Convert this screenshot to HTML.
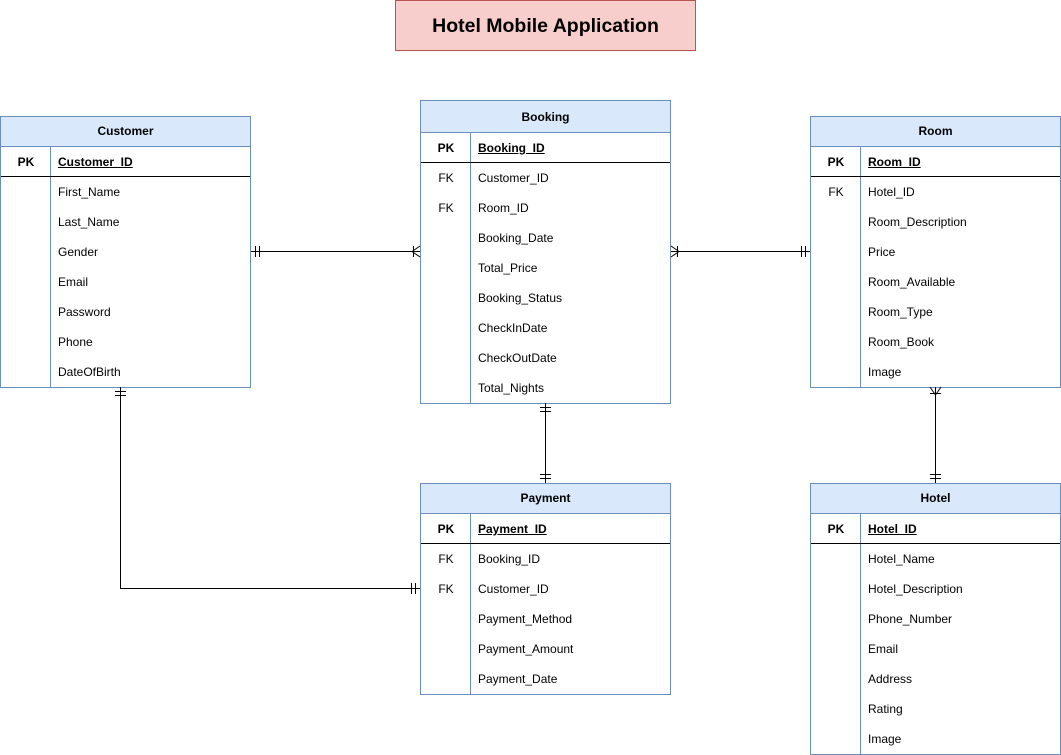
<!DOCTYPE html>
<html><head><meta charset="utf-8"><style>
body{margin:0;width:1061px;height:755px;background:#fff;position:relative;font-family:"Liberation Sans",Arial,sans-serif;font-size:12px;color:#000;overflow:hidden}
.t{position:absolute;width:249px;border:1px solid #6c8ebf;background:#fff;box-sizing:content-box}
.h{height:29px;line-height:29px;text-align:center;font-weight:bold;background:#dae8fc;border-bottom:1px solid #6c8ebf}
.r{height:30px;line-height:30px;position:relative}
.r .k{position:absolute;left:0;width:50px;text-align:center}
.r .n{position:absolute;left:57px}
.pk{font-weight:bold;border-bottom:1px solid #000;height:29px;line-height:30px}
.pk .n{text-decoration:underline}
.v{position:absolute;left:49px;top:30px;bottom:0;border-left:1px solid #6c8ebf}
#title{position:absolute;left:395px;top:0;width:299px;height:49px;background:#f8cecc;border:1px solid #b85450;text-align:center;line-height:50px;font-weight:bold;font-size:19.5px}
svg{position:absolute;left:0;top:0}
</style></head><body>
<div id="title">Hotel Mobile Application</div>

<div class="t" style="left:0;top:116px"><div class="v"></div>
<div class="h">Customer</div>
<div class="r pk"><span class="k">PK</span><span class="n">Customer_ID</span></div>
<div class="r"><span class="n">First_Name</span></div>
<div class="r"><span class="n">Last_Name</span></div>
<div class="r"><span class="n">Gender</span></div>
<div class="r"><span class="n">Email</span></div>
<div class="r"><span class="n">Password</span></div>
<div class="r"><span class="n">Phone</span></div>
<div class="r"><span class="n">DateOfBirth</span></div>
</div>

<div class="t" style="left:420px;top:100px"><div class="v" style="top:32px"></div>
<div class="h" style="height:31px;line-height:32px">Booking</div>
<div class="r pk"><span class="k">PK</span><span class="n">Booking_ID</span></div>
<div class="r"><span class="k">FK</span><span class="n">Customer_ID</span></div>
<div class="r"><span class="k">FK</span><span class="n">Room_ID</span></div>
<div class="r"><span class="n">Booking_Date</span></div>
<div class="r"><span class="n">Total_Price</span></div>
<div class="r"><span class="n">Booking_Status</span></div>
<div class="r"><span class="n">CheckInDate</span></div>
<div class="r"><span class="n">CheckOutDate</span></div>
<div class="r"><span class="n">Total_Nights</span></div>
</div>

<div class="t" style="left:810px;top:116px"><div class="v"></div>
<div class="h">Room</div>
<div class="r pk"><span class="k">PK</span><span class="n">Room_ID</span></div>
<div class="r"><span class="k">FK</span><span class="n">Hotel_ID</span></div>
<div class="r"><span class="n">Room_Description</span></div>
<div class="r"><span class="n">Price</span></div>
<div class="r"><span class="n">Room_Available</span></div>
<div class="r"><span class="n">Room_Type</span></div>
<div class="r"><span class="n">Room_Book</span></div>
<div class="r"><span class="n">Image</span></div>
</div>

<div class="t" style="left:420px;top:483px"><div class="v"></div>
<div class="h">Payment</div>
<div class="r pk"><span class="k">PK</span><span class="n">Payment_ID</span></div>
<div class="r"><span class="k">FK</span><span class="n">Booking_ID</span></div>
<div class="r"><span class="k">FK</span><span class="n">Customer_ID</span></div>
<div class="r"><span class="n">Payment_Method</span></div>
<div class="r"><span class="n">Payment_Amount</span></div>
<div class="r"><span class="n">Payment_Date</span></div>
</div>

<div class="t" style="left:810px;top:483px"><div class="v"></div>
<div class="h">Hotel</div>
<div class="r pk"><span class="k">PK</span><span class="n">Hotel_ID</span></div>
<div class="r"><span class="n">Hotel_Name</span></div>
<div class="r"><span class="n">Hotel_Description</span></div>
<div class="r"><span class="n">Phone_Number</span></div>
<div class="r"><span class="n">Email</span></div>
<div class="r"><span class="n">Address</span></div>
<div class="r"><span class="n">Rating</span></div>
<div class="r"><span class="n">Image</span></div>
</div>

<svg width="1061" height="755" fill="none" stroke="#000" stroke-width="1">
<path d="M251 251.5H420M255.5 246v11M259.5 246v11M412 251.5L420 246M412 251.5L420 257M413.5 246v11"/>
<path d="M671 251.5H810M805.5 246v11M801.5 246v11M679 251.5L671 246M679 251.5L671 257M677.5 246v11"/>
<path d="M545.5 403V483M540 407.5h11M540 411.5h11M540 474.5h11M540 478.5h11"/>
<path d="M935.5 387V483M935.5 395L930 387M935.5 395L941 387M930 393.5h11M930 474.5h11M930 478.5h11"/>
<path d="M120.5 387V588.5H420M115 391.5h11M115 395.5h11M411.5 583v11M415.5 583v11"/>
</svg>
</body></html>
